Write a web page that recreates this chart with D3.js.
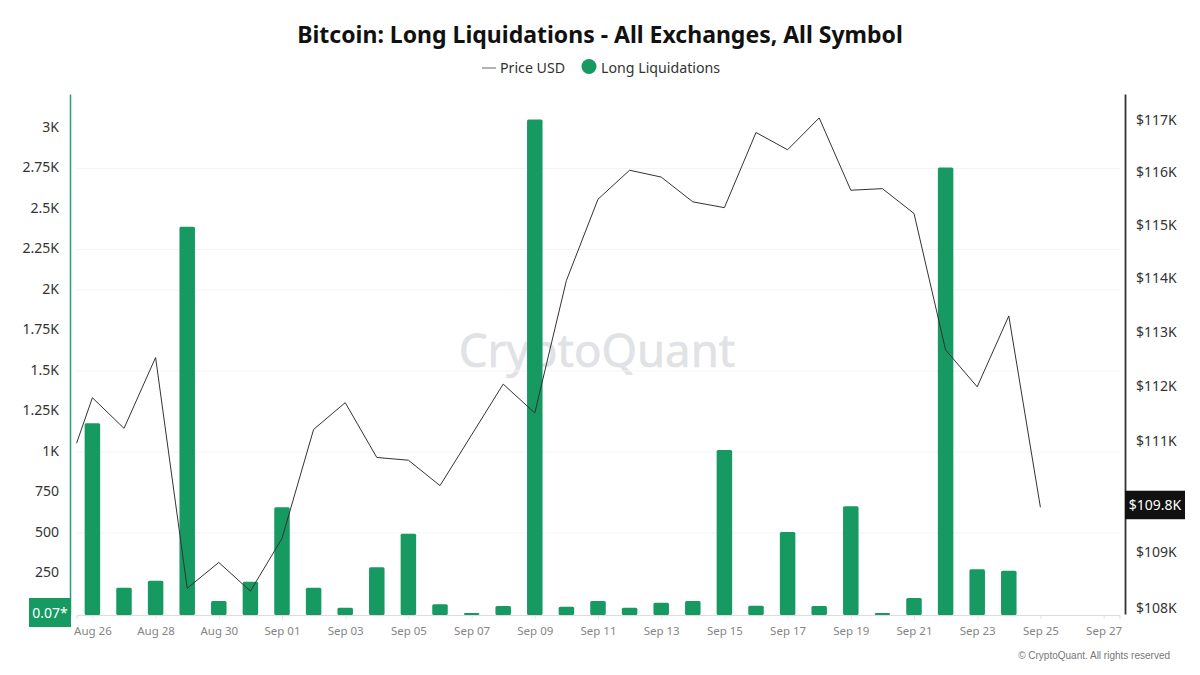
<!DOCTYPE html>
<html>
<head>
<meta charset="utf-8">
<script src="https://cdn.jsdelivr.net/npm/d3@7"></script>
<style>
html,body{margin:0;padding:0;background:#fff;}
svg{display:block;}
text{font-family:"Noto Sans","Open Sans",sans-serif;}
</style>
</head>
<body>
<svg id="chart" width="1200" height="675"></svg>
<script>
const titleText = "Bitcoin: Long Liquidations - All Exchanges, All Symbol";
const priceName = "Price USD";
const liqName = "Long Liquidations";
const barDates = ["2025-08-26","2025-08-27","2025-08-28","2025-08-29","2025-08-30","2025-08-31","2025-09-01","2025-09-02","2025-09-03","2025-09-04","2025-09-05","2025-09-06","2025-09-07","2025-09-08","2025-09-09","2025-09-10","2025-09-11","2025-09-12","2025-09-13","2025-09-14","2025-09-15","2025-09-16","2025-09-17","2025-09-18","2025-09-19","2025-09-20","2025-09-21","2025-09-22","2025-09-23","2025-09-24"];
const liquidations = [1177,162,206,2391,80,199,659,162,39,288,496,60,6,49,3053,45,80,39,70,80,1012,51,506,49,665,6,99,2757,276,267];
const priceDates = ["2025-08-25T12:00","2025-08-26","2025-08-27","2025-08-28","2025-08-29","2025-08-30","2025-08-31","2025-09-01","2025-09-02","2025-09-03","2025-09-04","2025-09-05","2025-09-06","2025-09-07","2025-09-08","2025-09-09","2025-09-10","2025-09-11","2025-09-12","2025-09-13","2025-09-14","2025-09-15","2025-09-16","2025-09-17","2025-09-18","2025-09-19","2025-09-20","2025-09-21","2025-09-22","2025-09-23","2025-09-24","2025-09-25"];
const prices = [110960,111790,111230,112530,108350,108810,108300,109240,111210,111700,110700,110650,110190,111110,112040,111510,113960,115490,116040,115910,115440,115330,116760,116430,117040,115660,115690,115220,112670,111990,113300,109800];
const xTickDates = ["2025-08-26","2025-08-28","2025-08-30","2025-09-01","2025-09-03","2025-09-05","2025-09-07","2025-09-09","2025-09-11","2025-09-13","2025-09-15","2025-09-17","2025-09-19","2025-09-21","2025-09-23","2025-09-25","2025-09-27"];
const leftTicks = [250,500,750,1000,1250,1500,1750,2000,2250,2500,2750,3000];
const leftTickLabels = ["250","500","750","1K","1.25K","1.5K","1.75K","2K","2.25K","2.5K","2.75K","3K"];
const gridValues = [500,1000,1500,2000,2250,2750];
const rightTicks = [108000,109000,111000,112000,113000,114000,115000,116000,117000];
const rightTickLabels = ["$108K","$109K","$111K","$112K","$113K","$114K","$115K","$116K","$117K"];
const lastPriceLabel = "$109.8K";
const lastLiqLabel = "0.07*";
const watermark = "CryptoQuant";
const copyright = "© CryptoQuant. All rights reserved";

const GREEN = "#169a62";
const parse = s => new Date(s.length > 10 ? s + ":00Z" : s + "T00:00:00Z");
const svg = d3.select("#chart");

const x = d3.scaleUtc().domain([parse("2025-08-25T12:00"), parse("2025-09-27T12:00")]).range([76.6, 1119.4]);
const yL = d3.scaleLinear().domain([0, 3210]).range([614, 94]);
const yR = d3.scaleLog().domain([107894, 117500]).range([614, 94]);

// watermark
svg.append("text").attr("x", 597).attr("y", 367).attr("text-anchor", "middle")
  .attr("font-size", 45.5).attr("fill", "#e0e2e5").attr("stroke", "#e0e2e5").attr("stroke-width", 0.6).text(watermark);

// grid
svg.append("g").selectAll("line").data(gridValues).join("line")
  .attr("x1", 76).attr("x2", 1120).attr("y1", d => yL(d)).attr("y2", d => yL(d))
  .attr("stroke", "#f3f4f5").attr("stroke-width", 1);

// x axis
const xAxis = d3.axisBottom(x).tickValues(xTickDates.map(parse)).tickFormat(d3.utcFormat("%b %d")).tickSize(4).tickPadding(8);
const gx = svg.append("g").attr("transform", "translate(0,615)").call(xAxis);
gx.select(".domain").attr("stroke", "#dcdcdc");
gx.selectAll(".tick line").attr("stroke", "#e4e4e4");
gx.selectAll("text").attr("font-size", 11.5).attr("fill", "#858585").style("font-family", '"Noto Sans"');

// bars
const bw = 15.5;
svg.append("g").selectAll("rect").data(liquidations).join("rect")
  .attr("x", (d, i) => x(parse(barDates[i])) - bw / 2)
  .attr("width", bw)
  .attr("y", d => yL(d))
  .attr("height", d => 615 - yL(d))
  .attr("rx", 1.5)
  .attr("fill", GREEN);

// price line
const line = d3.line().x((d, i) => x(parse(priceDates[i]))).y(d => yR(d));
svg.append("path").attr("d", line(prices)).attr("fill", "none").attr("stroke", "#333").attr("stroke-width", 1);

// left axis
const axL = d3.axisLeft(yL).tickValues(leftTicks).tickFormat((d, i) => leftTickLabels[i]).tickSize(0).tickPadding(11);
const gl = svg.append("g").attr("transform", "translate(70,0)").call(axL);
gl.select(".domain").attr("stroke", "#2f9d74").attr("stroke-width", 1.5);
gl.selectAll("text").attr("font-size", 14).attr("fill", "#333").attr("dy", "0.22em");

// right axis
const axR = d3.axisRight(yR).tickValues(rightTicks).tickFormat((d, i) => rightTickLabels[i]).tickSize(0).tickPadding(11);
const gr = svg.append("g").attr("transform", "translate(1125,0)").call(axR);
gr.select(".domain").attr("stroke", "#333").attr("stroke-width", 1.8);
gr.selectAll("text").attr("font-size", 14).attr("fill", "#333").attr("dy", "0.32em");

// last-value tags
const lastP = prices[prices.length - 1];
svg.append("rect").attr("x", 1125).attr("y", yR(lastP) - 16.5).attr("width", 60).attr("height", 28.5).attr("fill", "#111");
svg.append("text").attr("x", 1155).attr("y", yR(lastP) - 2).attr("dy", "0.35em").attr("text-anchor", "middle")
  .attr("font-size", 14).attr("fill", "#fff").text(lastPriceLabel);
svg.append("rect").attr("x", 29).attr("y", yL(0) - 16).attr("width", 42).attr("height", 29).attr("fill", GREEN);
svg.append("text").attr("x", 50).attr("y", yL(0) - 1).attr("dy", "0.35em").attr("text-anchor", "middle")
  .attr("font-size", 14).attr("fill", "#fff").text(lastLiqLabel);

// title
svg.append("text").attr("x", 600).attr("y", 43).attr("text-anchor", "middle")
  .attr("font-size", 23).attr("font-weight", 700).attr("fill", "#111").text(titleText);

// legend
svg.append("line").attr("x1", 482).attr("x2", 496).attr("y1", 68).attr("y2", 68).attr("stroke", "#666").attr("stroke-width", 1);
svg.append("text").attr("x", 500).attr("y", 73).attr("font-size", 14.2).attr("fill", "#333").text(priceName);
svg.append("circle").attr("cx", 589).attr("cy", 66.5).attr("r", 7.5).attr("fill", GREEN);
svg.append("text").attr("x", 601).attr("y", 73).attr("font-size", 14.2).attr("fill", "#333").text(liqName);

// copyright
svg.append("text").attr("x", 1170).attr("y", 659).attr("text-anchor", "end")
  .attr("font-size", 10).attr("fill", "#777").style("font-family", '"Liberation Sans"').text(copyright);
</script>
</body>
</html>
